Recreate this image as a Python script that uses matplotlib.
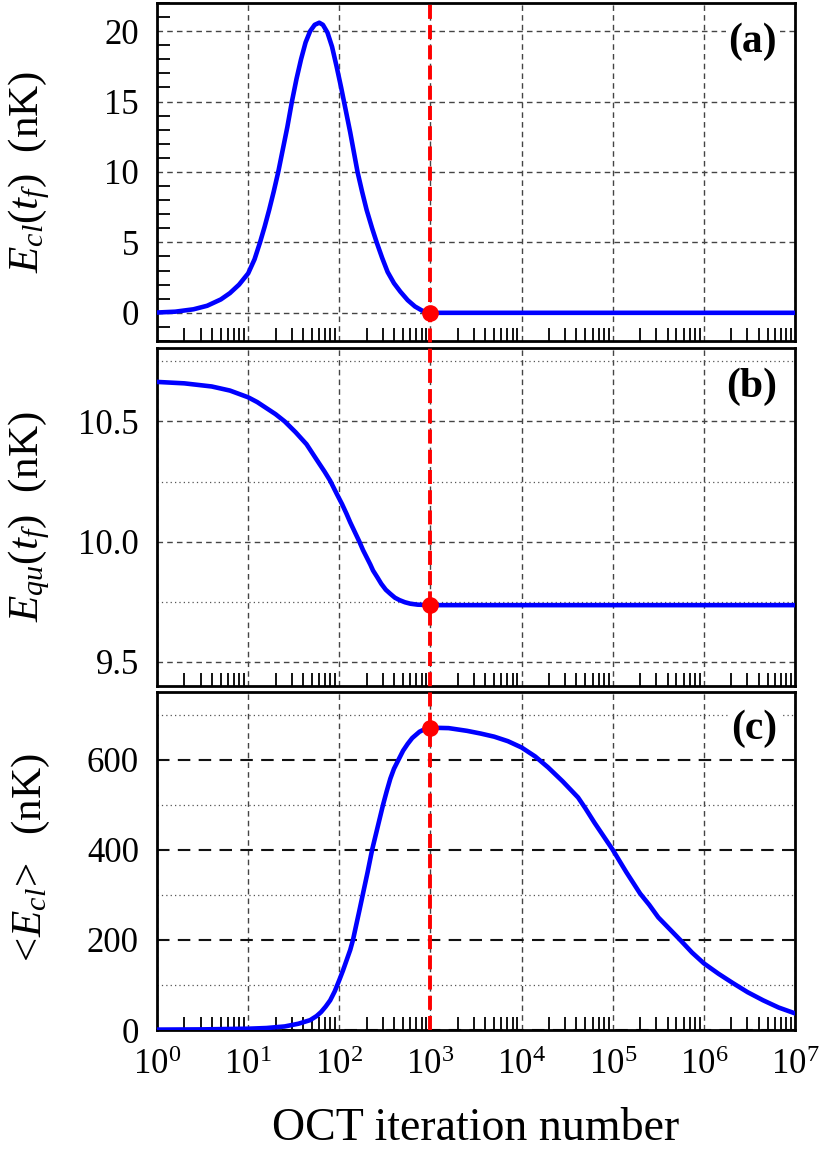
import matplotlib

matplotlib.use("Agg")
import matplotlib.pyplot as plt
import matplotlib.transforms as mtransforms
import numpy as np
from matplotlib.lines import Line2D
from matplotlib.ticker import (FixedLocator, FormatStrFormatter, LogLocator,
                               MultipleLocator, NullFormatter)

# log10(iteration) and values
A_LOGN = [0.0, 0.2, 0.4, 0.55, 0.7, 0.8, 0.9, 1.0, 1.07, 1.13, 1.18, 1.23, 1.28, 1.33,
          1.38, 1.43, 1.48, 1.53, 1.58, 1.63, 1.68, 1.73, 1.78, 1.82, 1.87, 1.92, 1.97,
          2.02, 2.07, 2.12, 2.16, 2.2, 2.25, 2.3, 2.36, 2.41, 2.47, 2.53, 2.6, 2.67,
          2.75, 2.83, 2.91, 3.0, 4.0, 5.0, 6.0, 7.0]
A_ECL = [0.02, 0.08, 0.25, 0.5, 0.95, 1.4, 2.0, 2.8, 3.8, 5.0, 6.1, 7.3, 8.6, 10.0,
         11.6, 13.2, 15.0, 16.6, 18.0, 19.2, 20.0, 20.45, 20.6, 20.45, 19.9, 18.9, 17.5,
         16.0, 14.4, 12.8, 11.4, 10.0, 8.6, 7.3, 6.0, 5.0, 3.9, 2.9, 2.1, 1.5,
         0.9, 0.45, 0.15, 0.0, 0.0, 0.0, 0.0, 0.0]

B_LOGN = [0.0, 0.3, 0.6, 0.8, 1.0, 1.1, 1.2, 1.3, 1.4, 1.52, 1.64, 1.77, 1.84, 1.9,
          1.97, 2.03, 2.08, 2.12, 2.17, 2.22, 2.26, 2.3, 2.34, 2.37, 2.42, 2.46, 2.51,
          2.56, 2.61, 2.66, 2.72, 2.78, 2.86, 2.93, 3.0, 7.0]
B_EQU = [10.664, 10.658, 10.645, 10.628, 10.60, 10.58, 10.555, 10.53, 10.50, 10.455,
         10.405, 10.33, 10.29, 10.253, 10.20, 10.156, 10.115, 10.08, 10.04, 10.0,
         9.965, 9.935, 9.905, 9.88, 9.85, 9.825, 9.80, 9.783, 9.767, 9.757, 9.748,
         9.742, 9.738, 9.737, 9.736, 9.736]

C_LOGN = [0.0, 0.5, 1.0, 1.2, 1.4, 1.55, 1.68, 1.75, 1.8, 1.85, 1.9, 1.95, 2.0, 2.04,
          2.08, 2.12, 2.15, 2.18, 2.22, 2.26, 2.31, 2.36, 2.42, 2.48, 2.52, 2.56, 2.6,
          2.65, 2.7, 2.75, 2.8, 2.88, 2.94, 3.0, 3.2, 3.4, 3.55, 3.7, 3.85, 4.0, 4.15,
          4.29, 4.45, 4.62, 4.7, 4.8, 4.9, 5.0, 5.15, 5.3, 5.4, 5.5, 5.62, 5.74, 5.87,
          6.0, 6.16, 6.32, 6.48, 6.65, 6.82, 7.0]
C_MEAN = [1, 1.5, 3, 4.5, 8, 14, 22, 31, 40, 52, 66, 86, 111, 132,
          155, 178, 200, 228, 265, 303, 350, 400, 450, 500, 530, 558, 580,
          600, 620, 635, 648, 662, 668, 671, 670, 664, 658, 651, 641, 627, 607,
          583, 552, 516, 492, 460, 430, 400, 350, 303, 278, 250, 225, 200, 172,
          148, 125, 104, 84, 66, 50, 37]

OPT_ITER = 1000
OPT_VALUES = [0.0, 9.736, 671]

YLABELS = [r"$E_{cl}(t_f)$  (nK)", r"$E_{qu}(t_f)$  (nK)", r"$<\!E_{cl}\!>$  (nK)"]
PANEL_TAGS = ["(a)", "(b)", "(c)"]

plt.rcParams.update(
    {
        "font.family": ["Liberation Serif", "DejaVu Serif"],
        "mathtext.fontset": "custom",
        "mathtext.rm": "Liberation Serif",
        "mathtext.it": "Liberation Serif:italic",
        "mathtext.bf": "Liberation Serif:bold",
        "font.size": 25,
        "axes.linewidth": 2.0,
    }
)

fig = plt.figure(figsize=(8.23, 11.5), dpi=100)
left, width = 0.1908, 0.7752
ax_a = fig.add_axes([left, 0.7035, width, 0.2939])
ax_b = fig.add_axes([left, 0.4035, width, 0.2939])
ax_c = fig.add_axes([left, 0.1043, width, 0.2939])
axes = [ax_a, ax_b, ax_c]

series = [
    (A_LOGN, A_ECL),
    (B_LOGN, B_EQU),
    (C_LOGN, C_MEAN),
]
tag_y = [0.885, 0.885, 0.89]

grid_kw = dict(color="#444444", linestyle=(0, (4, 3)), linewidth=1.0)
for ax, (logn, vals), opt, lab, tag, ty in zip(axes, series, OPT_VALUES, YLABELS, PANEL_TAGS, tag_y):
    x = 10.0 ** np.asarray(logn)
    ax.set_xscale("log")
    ax.set_xlim(1, 1e7)
    ax.plot(x, vals, color="#0000ff", linewidth=3.3, zorder=3)
    ax.plot([OPT_ITER], [opt], "o", color="#ff0000", markersize=11, zorder=5)
    ax.set_ylabel(lab, fontsize=31)
    ax.yaxis.set_label_coords(-0.164, 0.5)
    ax.text(0.972, ty, tag, transform=ax.transAxes, ha="right", va="center",
            fontsize=30, fontweight="bold", zorder=6,
            bbox=dict(facecolor="white", edgecolor="none", pad=2))
    ax.xaxis.set_major_locator(LogLocator(base=10, numticks=10))
    ax.xaxis.set_minor_locator(LogLocator(base=10, subs=np.arange(2, 10), numticks=100))
    ax.xaxis.set_minor_formatter(NullFormatter())
    ax.tick_params(axis="x", which="both", direction="in", top=False, bottom=True)
    ax.tick_params(axis="x", which="minor", length=9.5, width=1.3)
    ax.tick_params(axis="x", which="major", length=0, pad=14, labelsize=25)
    ax.tick_params(axis="y", which="major", length=0, pad=13, labelsize=25)
    ax.grid(True, axis="x", which="major", **grid_kw)
    ax.set_axisbelow(True)

for ax in [ax_a, ax_b]:
    ax.tick_params(axis="x", which="major", labelbottom=False)

# panel (a)
ax_a.set_ylim(-2, 22)
ax_a.yaxis.set_major_locator(MultipleLocator(5))
ax_a.yaxis.set_minor_locator(MultipleLocator(1))
ax_a.tick_params(axis="y", which="minor", direction="in", length=9.5, width=1.3, right=False)
ax_a.grid(True, axis="y", which="major", **grid_kw)

# panel (b)
ax_b.set_ylim(9.4, 10.805)
ax_b.yaxis.set_major_locator(FixedLocator([9.5, 10.0, 10.5]))
ax_b.yaxis.set_major_formatter(FormatStrFormatter("%.1f"))
ax_b.yaxis.set_minor_locator(FixedLocator([9.75, 10.25, 10.75]))
ax_b.tick_params(axis="y", which="minor", length=0)
ax_b.grid(True, axis="y", which="major", **grid_kw)
ax_b.grid(True, axis="y", which="minor", color="#555555", linestyle=(0, (1, 2.5)), linewidth=0.9)

# panel (c)
ax_c.set_ylim(0, 750)
ax_c.yaxis.set_major_locator(MultipleLocator(200))
ax_c.yaxis.set_minor_locator(MultipleLocator(100))
ax_c.tick_params(axis="y", which="minor", length=0)
ax_c.grid(True, axis="y", which="major", color="#111111", linestyle=(0, (6, 4)), linewidth=1.5)
ax_c.grid(True, axis="y", which="minor", color="#555555", linestyle=(0, (1, 2.5)), linewidth=0.9)
ax_c.set_xlabel("OCT iteration number", fontsize=33, labelpad=18)

# red dashed marker line running through all three panels
trans = mtransforms.blended_transform_factory(ax_c.transData, fig.transFigure)
y0 = ax_c.get_position().y0
y1 = ax_a.get_position().y1
fig.add_artist(Line2D([OPT_ITER, OPT_ITER], [y0, y1], transform=trans, color="#ff0000",
                      linestyle=(0, (3.6, 1.6)), linewidth=2.8, zorder=10))

fig.savefig("out.png", dpi=100)
